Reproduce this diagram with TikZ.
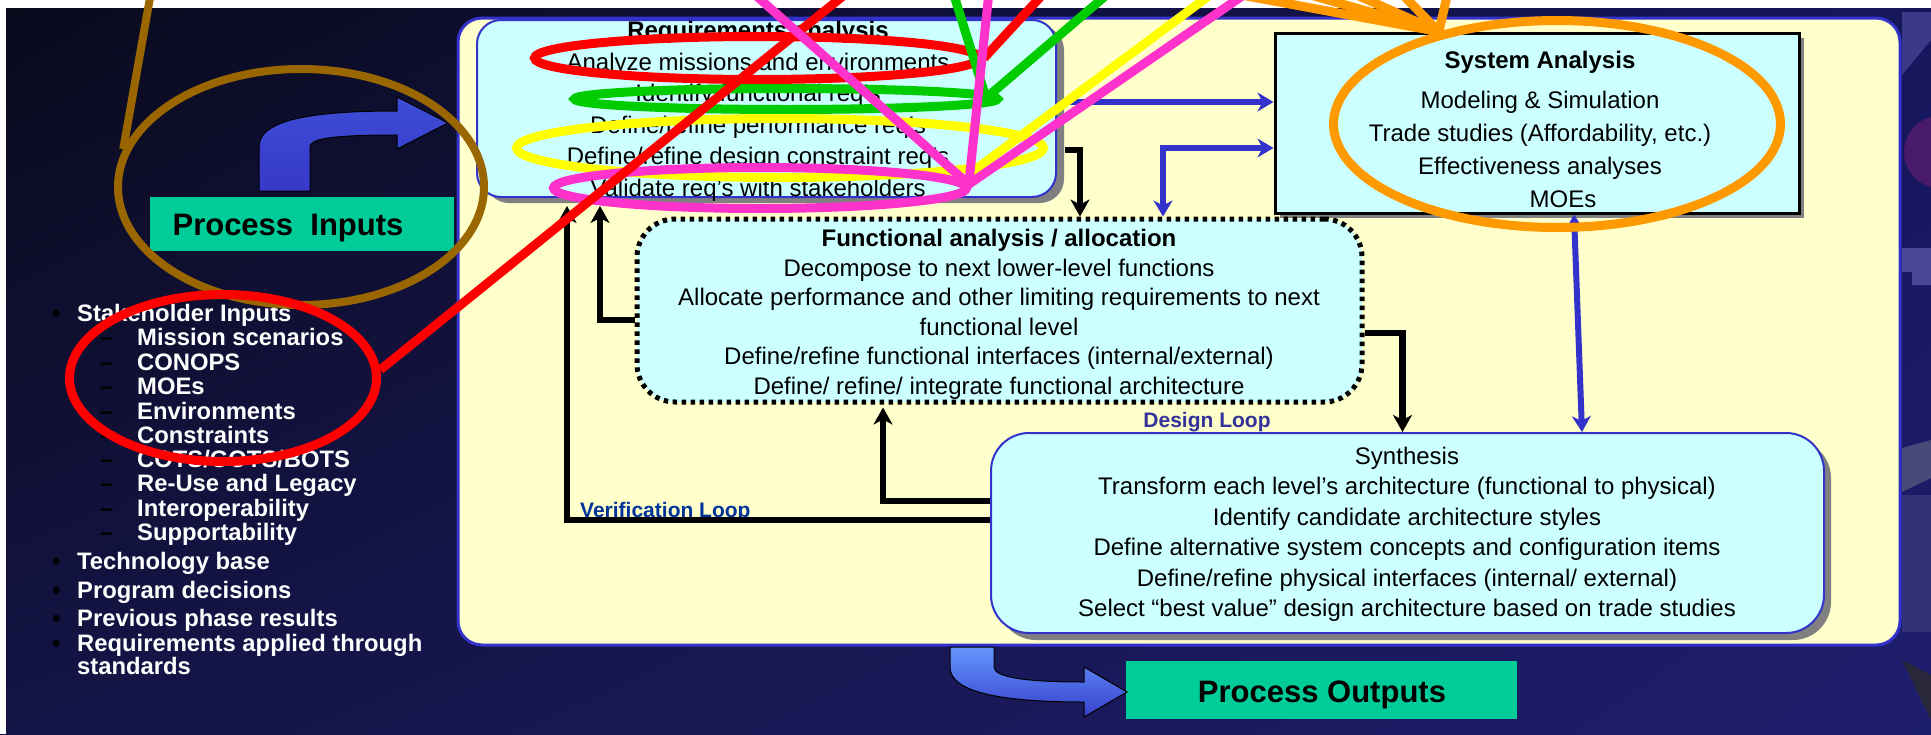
\documentclass[tikz,border=0pt]{standalone}
\usepackage{fontspec}
\setmainfont{Liberation Sans}
\usetikzlibrary{arrows.meta,shapes.geometric,shadows,shadings}
\definecolor{paleY}{HTML}{FFFFCC}
\definecolor{paleC}{HTML}{CCFFFF}
\definecolor{bord}{HTML}{3333CC}
\definecolor{grn}{HTML}{00CC99}
\definecolor{brn}{HTML}{996600}
\definecolor{org}{HTML}{FF9900}
\definecolor{pnk}{HTML}{FF33CC}
\definecolor{ylw}{HTML}{FFFF00}
\definecolor{gre}{HTML}{00CC00}
\definecolor{rd}{HTML}{FF0000}
\definecolor{loopblue}{HTML}{333399}
\definecolor{verblue}{HTML}{003399}
\definecolor{shgray}{HTML}{808080}
\definecolor{bgUL}{RGB}{10,10,28}
\definecolor{bgLL}{RGB}{20,20,70}
\definecolor{bgUR}{RGB}{22,22,92}
\definecolor{bgLR}{RGB}{30,30,110}
\definecolor{decA}{RGB}{58,58,136}
\definecolor{decB}{RGB}{72,26,106}
\definecolor{decC}{RGB}{72,72,150}
\definecolor{decD}{RGB}{74,74,120}
\definecolor{decE}{RGB}{50,50,120}
\definecolor{decF}{RGB}{40,40,58}
\definecolor{arT}{RGB}{60,78,216}
\definecolor{arM}{RGB}{150,200,255}
\definecolor{arB}{RGB}{56,56,200}
\definecolor{aoT}{RGB}{100,150,255}
\definecolor{aoB}{RGB}{56,64,204}
\begin{document}
\begin{tikzpicture}[x=1pt,y=-1pt,
  txt/.style={inner sep=0pt, align=center, text=black},
  blk/.style={line width=6.5pt, draw=black, -{Stealth[length=17pt,width=19pt,inset=5pt]}},
  bl1/.style={line width=6pt, draw=bord, -{Stealth[length=16pt,width=19pt,inset=5pt]}},
  bl2/.style={line width=6pt, draw=bord, {Stealth[length=16pt,width=19pt,inset=5pt]}-{Stealth[length=16pt,width=19pt,inset=5pt]}},
  annot/.style={draw, line width=9pt, shape=ellipse, inner sep=0pt},
  aline/.style={line width=9pt},
  li/.style={anchor=base west, inner sep=0pt, text=white, font=\fontsize{23.8}{24}\selectfont\bfseries},
  mk/.style={anchor=base west, inner sep=0pt, text=black, font=\fontsize{23.8}{24}\selectfont\bfseries}]
\useasboundingbox (0,0) rectangle (1931,734);
\begin{scope}
\clip (0,0) rectangle (1931,734);
% background
\shade[upper left=bgUL, lower left=bgLL, upper right=bgUR, lower right=bgLR] (0,0) rectangle (1931,734);
\fill[white] (0,0) rectangle (1931,8);
\fill[white] (0,0) rectangle (6,734);
% right decoration
\fill[decA] (1902,12) -- (1931,12) -- (1931,40) -- (1902,75) -- cycle;
\fill[decB] (1940,152) circle (36);
\fill[decC] (1902,248) -- (1931,248) -- (1931,285) -- (1912,285) -- (1912,272) -- (1902,272) -- cycle;
\fill[decD] (1902,448) -- (1931,440) -- (1931,478) -- (1902,492) -- cycle;
\fill[decE] (1902,495) -- (1931,495) -- (1931,632) -- (1902,632) -- cycle;
\fill[decF] (1902,660) -- (1931,675) -- (1931,720) -- cycle;

% main panel
\node[draw=bord, line width=3pt, fill=paleY, rounded corners=24pt, minimum width=1442pt, minimum height=627pt, inner sep=0pt] (main) at (1179,331.5) {};

% boxes
\node[fill=paleC, draw=bord, line width=2pt, rounded corners=24pt, minimum width=579pt, minimum height=177pt, inner sep=0pt,
  drop shadow={shadow xshift=8pt,shadow yshift=-6pt,fill=shgray,opacity=1}] (req) at (766.5,108.5) {};
\node[fill=paleC, draw=black, line width=3pt, minimum width=524pt, minimum height=180pt, inner sep=0pt,
  drop shadow={shadow xshift=5pt,shadow yshift=-5pt,fill=shgray,opacity=1}] (sa) at (1537,123) {};
\node[fill=paleC, draw=black, line width=5pt, dash pattern=on 4.5pt off 4.5pt, rounded corners=38pt, minimum width=725pt, minimum height=183pt, inner sep=0pt] (fa) at (999.5,310.5) {};
\node[fill=paleC, draw=bord, line width=2pt, rounded corners=38pt, minimum width=833pt, minimum height=200pt, inner sep=0pt,
  drop shadow={shadow xshift=7pt,shadow yshift=-7pt,fill=shgray,opacity=1}] (syn) at (1407.5,533) {};

% box texts
\node[txt, anchor=north, font=\fontsize{24}{31.6}\selectfont] (reqtxt) at (758,21)
 {\textbf{Requirements analysis}\\Analyze missions and environments\\Identify functional req's\\Define/refine performance req's\\Define/refine design constraint req's\\Validate req's with stakeholders};
\node[txt, anchor=north, font=\fontsize{24}{33}\selectfont] (satxt) at (1540,51)
 {\textbf{System Analysis}\\[7pt]Modeling \& Simulation\\Trade studies (Affordability, etc.)\\Effectiveness analyses\\\hspace*{46pt}MOEs};
\node[txt, anchor=north, font=\fontsize{24}{29.6}\selectfont] (fatxt) at (999,229)
 {\textbf{Functional analysis / allocation}\\Decompose to next lower-level functions\\Allocate performance and other limiting requirements to next\\functional level\\Define/refine functional interfaces (internal/external)\\Define/ refine/ integrate functional architecture};
\node[txt, anchor=north, font=\fontsize{24}{30.4}\selectfont] (syntxt) at (1407,447)
 {Synthesis\\Transform each level’s architecture (functional to physical)\\Identify candidate architecture styles\\Define alternative system concepts and configuration items\\Define/refine physical interfaces (internal/ external)\\Select “best value” design architecture based on trade studies};

\node[anchor=base, inner sep=0pt, text=loopblue, font=\fontsize{21}{21}\selectfont\bfseries] (dloop) at (1207,427.5) {Design Loop};
\node[anchor=base west, inner sep=0pt, text=verblue, font=\fontsize{21}{21}\selectfont\bfseries] (vloop) at (580,517.5) {Verification Loop};

% connectors
\draw[blk] ([xshift=8pt,yshift=-41.5pt]req.east) -| ([xshift=80.5pt]fa.north);
\draw[blk] ([yshift=-9.5pt]fa.west) -| ([xshift=-166.5pt,yshift=-8pt]req.south);
\draw[blk] ([yshift=13pt]syn.west) -| ([xshift=-199.5pt,yshift=-8pt]req.south);
\draw[blk] ([yshift=32pt]syn.west) -| ([xshift=-116.5pt,yshift=-3pt]fa.south);
\draw[blk] ([yshift=-22.5pt]fa.east) -| ([xshift=-5pt]syn.north);
\draw[bl1] ([xshift=8pt,yshift=6.5pt]req.east) -- ([yshift=21pt]sa.west);
\draw[bl2] ([xshift=163.5pt]fa.north) |- ([yshift=-25pt]sa.west);
\draw[bl2] ([xshift=37pt]sa.south) -- ([xshift=174.5pt]syn.north);

% process inputs / outputs
\node[fill=grn, minimum width=304pt, minimum height=54pt, inner sep=0pt] (pin) at (302,224) {};
\node[anchor=base, inner sep=0pt, font=\fontsize{31}{31}\selectfont\bfseries] (pintxt) at (288,235.5) {Process\ \ Inputs};
\node[fill=grn, minimum width=391pt, minimum height=58pt, inner sep=0pt] (pout) at (1321.5,690) {};
\node[anchor=base, inner sep=0pt, font=\fontsize{31}{31}\selectfont\bfseries] (pouttxt) at (1322,702) {Process Outputs};

\draw[line width=1pt, black, top color=arT, middle color=arM, bottom color=arB]
  (259,191) -- (259,147) .. controls (259,120) and (310,111) .. (397,111) -- (397,97) -- (448,123) -- (397,149) -- (397,135)
  .. controls (330,135) and (310,139) .. (310,147) -- (310,191) -- cycle;
\draw[line width=1pt, black, top color=aoT, bottom color=aoB]
  (950,647) -- (950,667) .. controls (950,692) and (1000,702) .. (1084,702) -- (1084,717) -- (1127,692) -- (1084,667) -- (1084,682)
  .. controls (1030,682) and (994,678) .. (994,667) -- (994,647) -- cycle;

% left list
\node[mk] (b1) at (52,321) {•}; \node[li] (t1) at (77,321) {Stakeholder Inputs};
\node[mk] (d1) at (100,345) {–}; \node[li] (s1) at (137,345) {Mission scenarios};
\node[mk] (d2) at (100,370) {–}; \node[li] (s2) at (137,370) {CONOPS};
\node[mk] (d3) at (100,394) {–}; \node[li] (s3) at (137,394) {MOEs};
\node[mk] (d4) at (100,419) {–}; \node[li] (s4) at (137,419) {Environments};
\node[mk] (d5) at (100,443) {–}; \node[li] (s5) at (137,443) {Constraints};
\node[mk] (d6) at (100,467) {–}; \node[li] (s6) at (137,467) {COTS/GOTS/BOTS};
\node[mk] (d7) at (100,491) {–}; \node[li] (s7) at (137,491) {Re-Use and Legacy};
\node[mk] (d8) at (100,516) {–}; \node[li] (s8) at (137,516) {Interoperability};
\node[mk] (d9) at (100,540) {–}; \node[li] (s9) at (137,540) {Supportability};
\node[mk] (b2) at (52,569) {•}; \node[li] (t2) at (77,569) {Technology base};
\node[mk] (b3) at (52,598) {•}; \node[li] (t3) at (77,598) {Program decisions};
\node[mk] (b4) at (52,626) {•}; \node[li] (t4) at (77,626) {Previous phase results};
\node[mk] (b5) at (52,651) {•}; \node[li] (t5) at (77,651) {Requirements applied through};
\node[li] (t5b) at (77,674) {standards};

% annotations
\node[annot, draw=brn, line width=8pt, minimum width=366pt, minimum height=236pt] (brnEll) at (301,187) {};
\node[annot, draw=rd, minimum width=307pt, minimum height=167pt] (redEll) at (223,378) {};
\node[annot, draw=rd, minimum width=445pt, minimum height=43pt] (anaEll) at (757,58) {};
\node[annot, draw=gre, minimum width=423pt, minimum height=21pt] (grnEll) at (786,99) {};
\node[annot, draw=ylw, minimum width=527pt, minimum height=59pt] (ylwEll) at (780,148) {};
\node[annot, draw=pnk, minimum width=413pt, minimum height=41pt] (pnkEll) at (760,188) {};
\node[annot, draw=org, minimum width=447pt, minimum height=207pt] (orgEll) at (1557,124) {};

\coordinate (bt) at (151,-8);
\coordinate (rt1) at (848,-8);
\coordinate (rt2) at (1045,-8);
\coordinate (gt1) at (953,-8);
\coordinate (gt2) at (1110,-8);
\coordinate (yt) at (1214,-8);
\coordinate (pt1) at (752,-8);
\coordinate (pt2) at (989,-8);
\coordinate (pt3) at (1248,-8);
\coordinate (ot1) at (1225,-8);
\coordinate (ot2) at (1300,-8);
\coordinate (ot3) at (1350,-8);
\coordinate (ot4) at (1400,-8);
\coordinate (ot5) at (1448,-8);
\coordinate (gp) at (986,98);

\draw[aline, brn, line width=8pt] (bt) -- (brnEll.168);
\draw[aline, rd] (redEll.3) -- (rt1);
\draw[aline, rd] (anaEll.east) -- (rt2);
\draw[aline, gre] (gp) -- (gt1);
\draw[aline, gre] (gp) -- (gt2);
\draw[aline, ylw] (ylwEll.-7) -- (yt);
\draw[aline, pnk] (pnkEll.1.7) -- (pt1);
\draw[aline, pnk] (pnkEll.1.7) -- (pt2);
\draw[aline, pnk] (pnkEll.1.7) -- (pt3);
\foreach \o in {ot1,ot2,ot3,ot4,ot5} \draw[aline, org] (orgEll.142) -- (\o);
\end{scope}
\end{tikzpicture}
\end{document}
